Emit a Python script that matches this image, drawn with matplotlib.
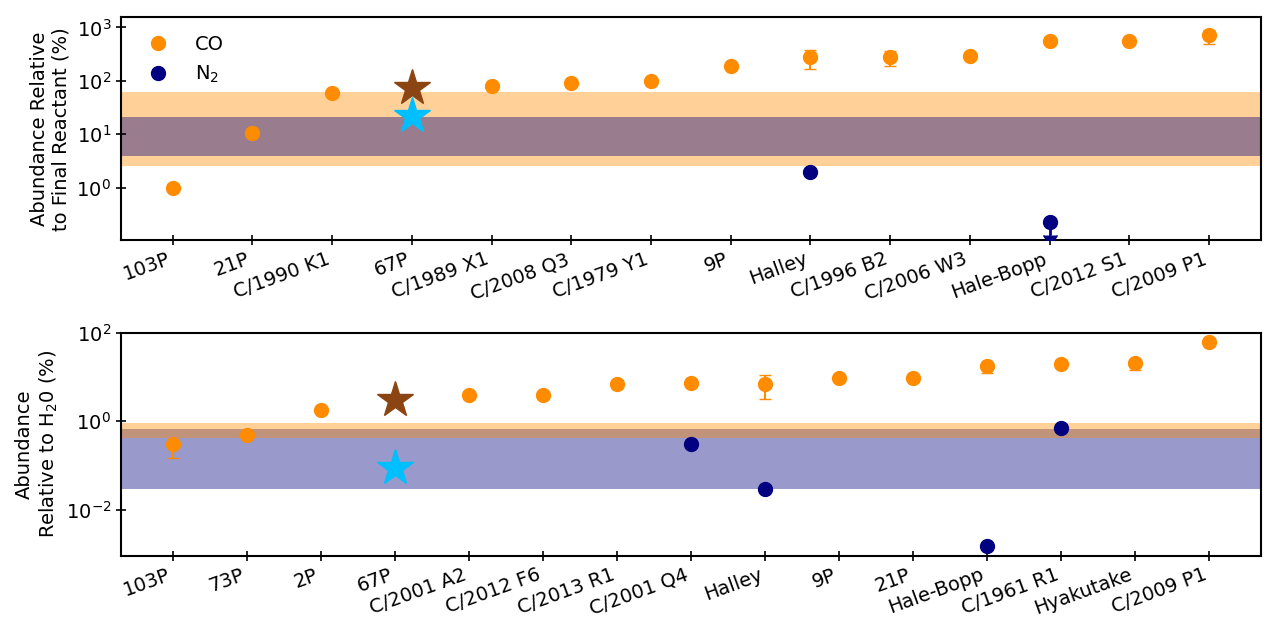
import numpy as np
import matplotlib
matplotlib.use('Agg')
import matplotlib.pyplot as plt
from matplotlib.lines import Line2D

# top panel: relative to final reactant
comets_top = ['103P', '21P', 'C/1990 K1', '67P', 'C/1989 X1', 'C/2008 Q3', 'C/1979 Y1',
              '9P', 'Halley', 'C/1996 B2', 'C/2006 W3', 'Hale-Bopp', 'C/2012 S1', 'C/2009 P1']
co_top = [1.0, 10.8, 60, np.nan, 80, 93, 99, 186, 274, 274, 290, 552, 560, 736]
co_top_lo = [0, 0, 0, 0, 0, 0, 0, 0, 106, 86, 0, 0, 0, 251]
co_top_hi = [0, 0, 0, 0, 0, 0, 0, 0, 112, 90, 0, 0, 0, 150]
n2_top = [np.nan] * 8 + [2.0, np.nan, np.nan, 0.229, np.nan, np.nan]
n2_top_lo = [0] * 11 + [0.100, 0, 0]
n2_top_uplim = [False] * 11 + [True, False, False]
star_top_co, star_top_n2 = 72, 22
band_top_co = (2.5, 60.7)
band_top_n2 = (4.0, 21.0)

# bottom panel: relative to H2O
comets_bot = ['103P', '73P', '2P', '67P', 'C/2001 A2', 'C/2012 F6', 'C/2013 R1', 'C/2001 Q4',
              'Halley', '9P', '21P', 'Hale-Bopp', 'C/1961 R1', 'Hyakutake', 'C/2009 P1']
co_bot = [0.30, 0.49, 1.77, np.nan, 3.9, 3.9, 7.1, 7.2, 7.0, 9.7, 9.7, 17.8, 19.8, 21.3, 62]
co_bot_lo = [0.15, 0, 0, 0, 0, 0, 0, 0, 3.8, 0, 0, 5.3, 0, 7.0, 0]
co_bot_hi = [0.1, 0, 0, 0, 0, 0, 0, 0, 4.2, 0, 0, 3.0, 0, 3.0, 0]
n2_bot = [np.nan] * 7 + [0.30, 0.030, np.nan, np.nan, 0.00155, 0.70, np.nan, np.nan]
star_bot_co, star_bot_n2 = 3.0, 0.088
band_bot_co = (0.41, 0.9)
band_bot_n2 = (0.030, 0.68)

plt.rcParams['font.size'] = 14

fig = plt.figure(figsize=(12.8, 6.4), dpi=100)
ax1 = fig.add_axes([0.0945, 0.625, 0.8905, 0.348])
ax2 = fig.add_axes([0.0945, 0.132, 0.8905, 0.348])

# --- top
x = np.arange(len(comets_top))
ax1.axhspan(*band_top_co, color='darkorange', alpha=0.4, lw=0, zorder=0)
ax1.axhspan(*band_top_n2, color='navy', alpha=0.4, lw=0, zorder=0)
ax1.errorbar(x, co_top, yerr=[co_top_lo, co_top_hi], fmt='o', color='darkorange',
             ms=10, capsize=4, elinewidth=1.5, zorder=3)
ax1.errorbar(x, n2_top, yerr=[n2_top_lo, [0] * len(x)], uplims=n2_top_uplim, fmt='o',
             color='navy', ms=10, capsize=5, elinewidth=2, zorder=3)
ax1.plot(3, star_top_co, '*', color='saddlebrown', ms=27, zorder=4)
ax1.plot(3, star_top_n2, '*', color='deepskyblue', ms=27, zorder=4)
ax1.set_yscale('log')
ax1.set_ylim(0.105, 1550)
ax1.set_xticks(x)
ax1.set_xticklabels(comets_top, rotation=20, ha='right')
ax1.set_ylabel('Abundance Relative\nto Final Reactant (%)')
handles = [Line2D([], [], ls='none', marker='o', ms=10, color='darkorange'),
           Line2D([], [], ls='none', marker='o', ms=10, color='navy')]
ax1.legend(handles, ['CO', 'N$_2$'], loc='upper left', frameon=False,
           handletextpad=0.9, labelspacing=0.5)

# --- bottom
x2 = np.arange(len(comets_bot))
ax2.axhspan(*band_bot_n2, color='navy', alpha=0.4, lw=0, zorder=0)
ax2.axhspan(*band_bot_co, color='darkorange', alpha=0.4, lw=0, zorder=0)
ax2.errorbar(x2, co_bot, yerr=[co_bot_lo, co_bot_hi], fmt='o', color='darkorange',
             ms=10, capsize=4, elinewidth=1.5, zorder=3)
ax2.plot(x2, n2_bot, 'o', color='navy', ms=10, zorder=3)
ax2.plot(3, star_bot_co, '*', color='saddlebrown', ms=27, zorder=4)
ax2.plot(3, star_bot_n2, '*', color='deepskyblue', ms=27, zorder=4)
ax2.set_yscale('log')
ax2.set_ylim(9.3e-4, 100)
ax2.set_yticks([1e-2, 1e0, 1e2])
ax2.set_xticks(x2)
ax2.set_xticklabels(comets_bot, rotation=20, ha='right')
ax2.set_ylabel('Abundance\nRelative to H$_2$0 (%)')

for ax in (ax1, ax2):
    ax.minorticks_off()
    ax.tick_params(direction='inout', length=7, width=1.2, labelsize=14)
    for s in ax.spines.values():
        s.set_linewidth(1.5)

fig.savefig('out.png', dpi=100)
